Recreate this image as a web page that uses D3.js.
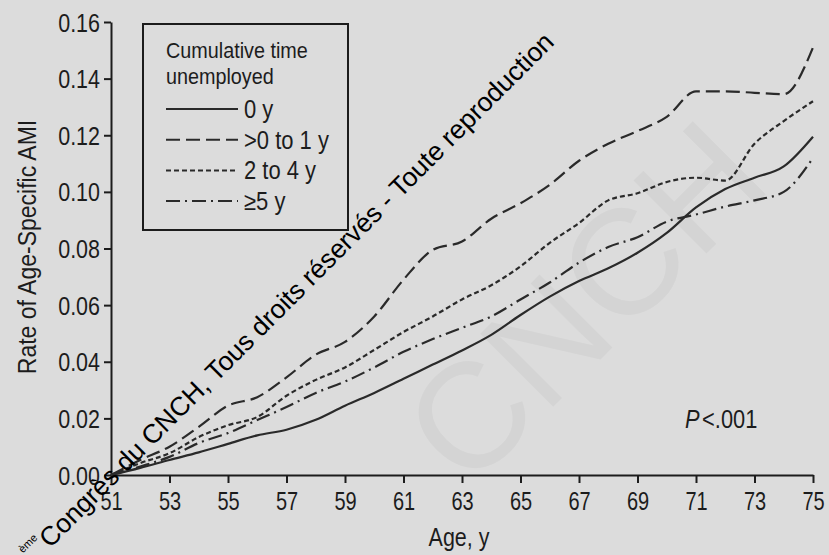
<!DOCTYPE html>
<html>
<head>
<meta charset="utf-8">
<script src="https://cdnjs.cloudflare.com/ajax/libs/d3/7.8.5/d3.min.js"></script>
<style>
  html, body { margin: 0; padding: 0; background: #dcdcdc; }
  svg { display: block; }
  text { font-family: "Liberation Sans", Arial, sans-serif; }
</style>
</head>
<body>
<svg id="chart" width="829" height="555"></svg>
<script>
// ages (years) on the x axis
var ages = [51, 52, 53, 54, 55, 56, 57, 58, 59, 60, 61, 62, 63,
            64, 65, 66, 67, 68, 69, 70, 71, 72, 73, 74, 75];

// cumulative rate of age-specific AMI per group
var rate0y = [0, 0.0025, 0.0053, 0.008, 0.011, 0.014, 0.016, 0.0195, 0.0245, 0.029,
  0.034, 0.039, 0.044, 0.0495, 0.0565, 0.063, 0.0685, 0.073, 0.0785, 0.0855,
  0.0945, 0.101, 0.105, 0.109, 0.1195];
var rateUpTo1y = [0, 0.0053, 0.010, 0.017, 0.0245, 0.0275, 0.0345, 0.0425, 0.047, 0.056,
  0.069, 0.0795, 0.0825, 0.0905, 0.096, 0.1025, 0.111, 0.117, 0.1215, 0.1265,
  0.1355, 0.1355, 0.135, 0.1345, 0.151];
var rate2to4y = [0, 0.0042, 0.0077, 0.0134, 0.0176, 0.0205, 0.028, 0.0336, 0.038, 0.0442,
  0.0505, 0.056, 0.062, 0.067, 0.0737, 0.082, 0.089, 0.097, 0.0995, 0.1035,
  0.105, 0.104, 0.117, 0.125, 0.132];
var rate5y = [0, 0.003, 0.0064, 0.0113, 0.0148, 0.0194, 0.024, 0.029, 0.033, 0.038,
  0.0435, 0.048, 0.052, 0.056, 0.062, 0.068, 0.075, 0.0805, 0.084, 0.0895,
  0.092, 0.0948, 0.097, 0.100, 0.112];

var seriesNames = ["0 y", ">0 to 1 y", "2 to 4 y", "\u22655 y"];
var xTicks = [51, 53, 55, 57, 59, 61, 63, 65, 67, 69, 71, 73, 75];
var yTicks = [0, 0.02, 0.04, 0.06, 0.08, 0.10, 0.12, 0.14, 0.16];

var dashes = ["none", "14,6", "5,3", "14,5,2,5"];
var allRates = [rate0y, rateUpTo1y, rate2to4y, rate5y];

var svg = d3.select("#chart");
var ink = "#1c1c1c";

// no narrow font installed, so squeeze regular glyphs horizontally
function label(x0, y0, k, size) {
  return svg.append("text")
      .attr("transform", "translate(" + x0 + "," + y0 + ") scale(" + k + ",1)")
      .attr("font-size", size)
      .attr("fill", ink);
}

// faint background watermark
var big = svg.append("g").attr("transform", "translate(468,492) rotate(-45)")
    .attr("fill", "#000").attr("fill-opacity", 0.035);
big.append("text").attr("font-size", 150).text("CNCH");

var x = d3.scaleLinear().domain([51, 75]).range([111, 813]);
var y = d3.scaleLinear().domain([0, 0.16]).range([475, 22]);

// axes
var xAxis = d3.axisBottom(x).tickValues(xTicks).tickSize(8).tickSizeOuter(0)
    .tickFormat(d3.format("d"));
var yAxis = d3.axisLeft(y).tickValues(yTicks).tickSize(7).tickSizeOuter(0)
    .tickFormat(d3.format(".2f"));

var gx = svg.append("g").attr("transform", "translate(0,475)").call(xAxis);
var gy = svg.append("g").attr("transform", "translate(111,0)").call(yAxis);

[gx, gy].forEach(function (g) {
  g.attr("font-family", null);
  g.select(".domain").attr("stroke", ink).attr("stroke-width", 2);
  g.selectAll(".tick line").attr("stroke", ink).attr("stroke-width", 2);
  g.selectAll(".tick text").attr("font-size", 25).attr("fill", ink);
});
gx.selectAll(".tick text").attr("dy", null).attr("y", 35)
    .attr("transform", "scale(0.8,1)");
gy.selectAll(".tick text").attr("x", -11 / 0.86).attr("dy", "0.36em")
    .attr("transform", "scale(0.86,1)");

// curves
var line = d3.line()
    .x(function (d, i) { return x(ages[i]); })
    .y(function (d) { return y(d); })
    .curve(d3.curveMonotoneX);

allRates.forEach(function (r, i) {
  svg.append("path")
      .datum(r)
      .attr("d", line)
      .attr("fill", "none")
      .attr("stroke", "#2a2a2a")
      .attr("stroke-width", 2.2)
      .attr("stroke-dasharray", dashes[i]);
});

// legend
svg.append("rect")
    .attr("x", 143).attr("y", 24)
    .attr("width", 205).attr("height", 206)
    .attr("fill", "none").attr("stroke", ink).attr("stroke-width", 2);

label(166, 58, 0.9, 22).text("Cumulative time");
label(166, 84, 0.9, 22).text("unemployed");

seriesNames.forEach(function (name, i) {
  var by = 118 + i * 30.7;
  svg.append("line")
      .attr("x1", 166).attr("x2", 238)
      .attr("y1", by - 9).attr("y2", by - 9)
      .attr("stroke", "#2a2a2a").attr("stroke-width", 2)
      .attr("stroke-dasharray", dashes[i]);
  label(244, by, 0.88, 25).text(name);
});

// axis titles
svg.append("text")
    .attr("transform", "translate(36,247) rotate(-90) scale(0.92,1)")
    .attr("text-anchor", "middle")
    .attr("font-size", 25).attr("fill", ink)
    .text("Rate of Age-Specific AMI");

label(459, 546, 0.86, 25).attr("text-anchor", "middle").text("Age, y");

// p value
var pv = label(685, 428, 0.84, 26);
pv.append("tspan").attr("font-style", "italic").text("P");
pv.append("tspan").attr("dx", 3).text("<.001");

// diagonal copyright overlay
var wm = svg.append("g").attr("transform", "translate(50,549) rotate(-45)");
wm.append("text")
    .attr("font-size", 26.5).attr("fill", "#000")
    .text("Congrès du CNCH, Tous droits réservés - Toute reproduction");
wm.append("text")
    .attr("x", -1).attr("y", -16)
    .attr("text-anchor", "end")
    .attr("font-size", 11).attr("fill", "#000")
    .text("ème");
</script>
</body>
</html>
